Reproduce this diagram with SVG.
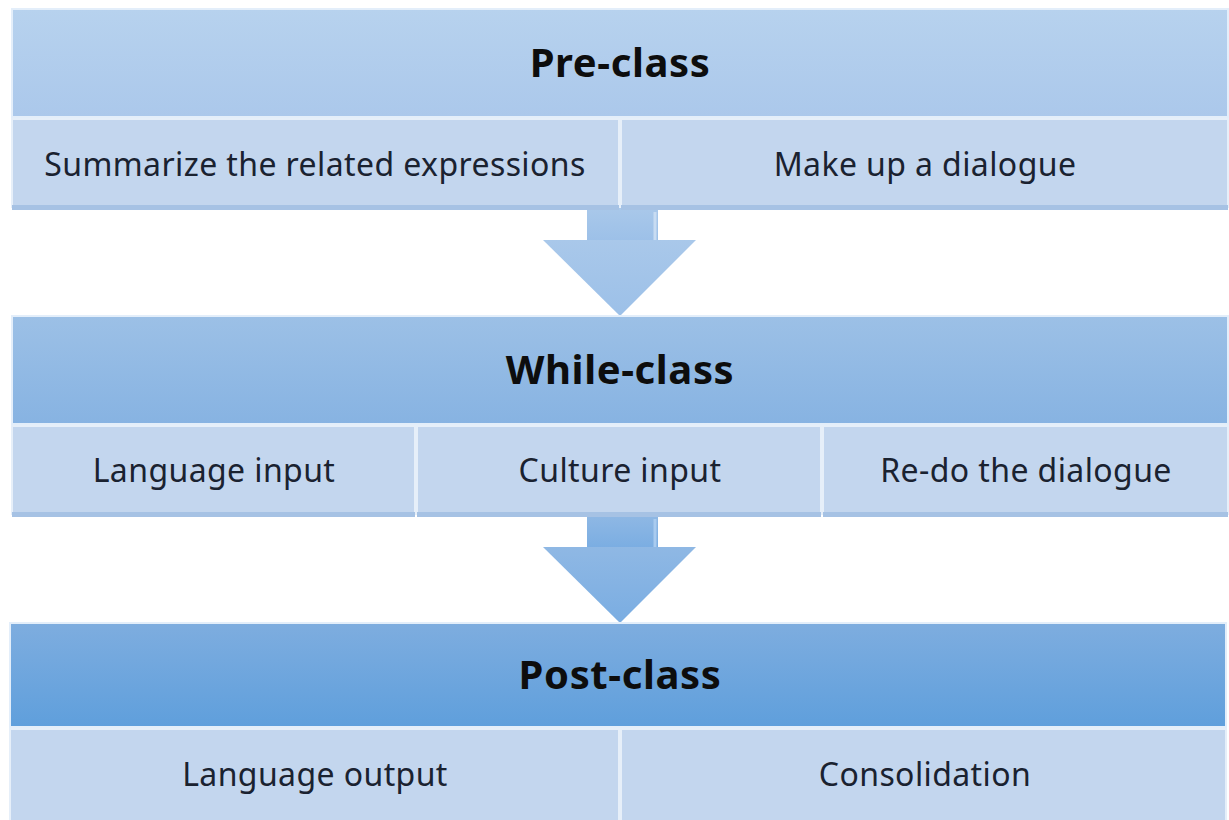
<svg xmlns="http://www.w3.org/2000/svg" width="1229" height="820" viewBox="0 0 1229 820">
<defs>
<linearGradient id="g1" x1="0" y1="0" x2="0" y2="1"><stop offset="0" stop-color="#b7d2ee"/><stop offset="1" stop-color="#abc8eb"/></linearGradient>
<linearGradient id="g2" x1="0" y1="0" x2="0" y2="1"><stop offset="0" stop-color="#9cc0e6"/><stop offset="1" stop-color="#87b3e2"/></linearGradient>
<linearGradient id="g3" x1="0" y1="0" x2="0" y2="1"><stop offset="0" stop-color="#7eaddf"/><stop offset="1" stop-color="#5f9fdc"/></linearGradient>
<linearGradient id="ga1" x1="0" y1="0" x2="0" y2="1"><stop offset="0" stop-color="#a9c8ea"/><stop offset="1" stop-color="#9cc0e8"/></linearGradient>
<linearGradient id="ga2" x1="0" y1="0" x2="0" y2="1"><stop offset="0" stop-color="#8fb8e4"/><stop offset="1" stop-color="#7aade2"/></linearGradient>
</defs>
<style>
.sub{fill:#c3d6ee;stroke:#e6eff9;stroke-width:2}
.hdr{stroke:#e3eefa;stroke-width:2}
.t{font-family:"Noto Sans","Open Sans","Liberation Sans",sans-serif;fill:#1a2230;text-anchor:middle}
.h{font-size:40px;font-weight:bold;fill:#0d0d0d;letter-spacing:0.6px}
.s{font-size:32px;letter-spacing:0.4px}
.shade{fill:#a6c2e4}
</style>
<rect width="1229" height="820" fill="#ffffff"/>
<g id="connectors">
<g id="arrow1">
<rect x="587" y="208" width="71" height="34" fill="url(#ga1)"/>
<polygon points="543,240 696,240 620,316" fill="url(#ga1)"/>
<line x1="655" y1="212" x2="655" y2="240" stroke="#c8dcf2" stroke-width="3"/>
</g>
<g id="arrow2">
<rect x="587" y="515" width="71" height="34" fill="url(#ga2)"/>
<polygon points="543,547 696,547 620,623" fill="url(#ga2)"/>
<line x1="655" y1="519" x2="655" y2="547" stroke="#a9cbef" stroke-width="3"/>
</g>
</g>
<g id="pre-class">
<rect class="hdr" x="12" y="9" width="1216" height="108" fill="url(#g1)"/>
<text class="t h" x="620" y="77">Pre-class</text>
</g>
<g id="summarize">
<rect class="sub" x="12" y="119" width="607" height="88"/>
<rect class="shade" x="12" y="205" width="607" height="5"/>
<text class="t s" x="315" y="176">Summarize the related expressions</text>
</g>
<g id="dialogue">
<rect class="sub" x="621" y="119" width="607" height="88"/>
<rect class="shade" x="621" y="205" width="607" height="5"/>
<text class="t s" x="925" y="176">Make up a dialogue</text>
</g>
<g id="while-class">
<rect class="hdr" x="12" y="316" width="1216" height="108" fill="url(#g2)"/>
<text class="t h" x="620" y="384">While-class</text>
</g>
<g id="language-input">
<rect class="sub" x="12" y="426" width="403" height="88"/>
<rect class="shade" x="12" y="512" width="403" height="5"/>
<text class="t s" x="214" y="482">Language input</text>
</g>
<g id="culture-input">
<rect class="sub" x="417" y="426" width="404" height="88"/>
<rect class="shade" x="417" y="512" width="404" height="5"/>
<text class="t s" x="620" y="482">Culture input</text>
</g>
<g id="redo">
<rect class="sub" x="823" y="426" width="405" height="88"/>
<rect class="shade" x="823" y="512" width="405" height="5"/>
<text class="t s" x="1026" y="482">Re-do the dialogue</text>
</g>
<g id="post-class">
<rect class="hdr" x="10" y="623" width="1216" height="104" fill="url(#g3)"/>
<text class="t h" x="620" y="689">Post-class</text>
</g>
<g id="language-output">
<rect class="sub" x="10" y="729" width="609" height="92"/>
<text class="t s" x="315" y="786">Language output</text>
</g>
<g id="consolidation">
<rect class="sub" x="621" y="729" width="605" height="92"/>
<text class="t s" x="925" y="786">Consolidation</text>
</g>
</svg>
